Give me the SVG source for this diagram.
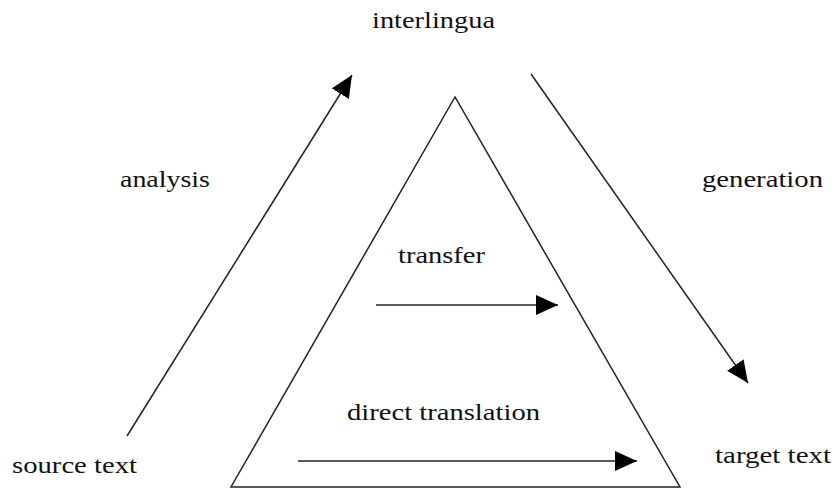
<svg xmlns="http://www.w3.org/2000/svg" width="832" height="489" viewBox="0 0 832 489">
<defs>
<style>
.t{font-family:'Liberation Serif','DejaVu Serif',serif;font-size:23px;fill:#111}
.ln{stroke:#222;stroke-width:1.5;fill:none}
</style>
<marker id="ah" markerUnits="userSpaceOnUse" markerWidth="24" markerHeight="22" refX="22" refY="10" orient="auto">
<path d="M0,0 L22,10 L0,20 Z" fill="#000"/>
</marker>
</defs>
<rect width="832" height="489" fill="#fff"/>
<g id="triangle">
<path class="ln" d="M455,97 L231,487 L680,487 Z"/>
</g>
<g id="connectors">
<line class="ln" x1="127" y1="436" x2="352" y2="75" marker-end="url(#ah)"/>
<line class="ln" x1="531" y1="74" x2="748" y2="383" marker-end="url(#ah)"/>
<line class="ln" x1="376" y1="305" x2="558" y2="305" marker-end="url(#ah)"/>
<line class="ln" x1="298" y1="461" x2="637" y2="461" marker-end="url(#ah)"/>
</g>
<g id="interlingua"><text class="t" font-family="Liberation Serif, serif" x="372" y="28" textLength="123" lengthAdjust="spacingAndGlyphs">interlingua</text></g>
<g id="analysis"><text class="t" font-family="Liberation Serif, serif" x="120" y="187" textLength="90" lengthAdjust="spacingAndGlyphs">analysis</text></g>
<g id="generation"><text class="t" font-family="Liberation Serif, serif" x="702" y="187" textLength="121" lengthAdjust="spacingAndGlyphs">generation</text></g>
<g id="transfer"><text class="t" font-family="Liberation Serif, serif" x="398" y="263" textLength="87" lengthAdjust="spacingAndGlyphs">transfer</text></g>
<g id="direct-translation"><text class="t" font-family="Liberation Serif, serif" x="347" y="420" textLength="193" lengthAdjust="spacingAndGlyphs">direct translation</text></g>
<g id="source-text"><text class="t" font-family="Liberation Serif, serif" x="12" y="473" textLength="125" lengthAdjust="spacingAndGlyphs">source text</text></g>
<g id="target-text"><text class="t" font-family="Liberation Serif, serif" x="715" y="463" textLength="116" lengthAdjust="spacingAndGlyphs">target text</text></g>
</svg>
